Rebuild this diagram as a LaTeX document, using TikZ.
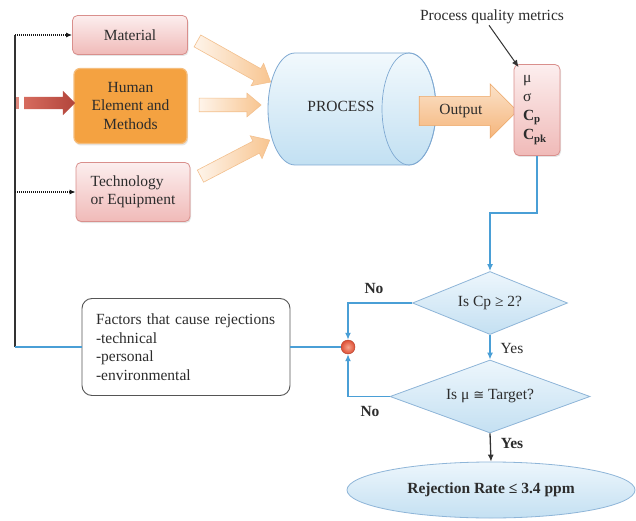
\documentclass[tikz,border=0pt]{standalone}
\usepackage{fontspec}
\setmainfont{Liberation Serif}
\newfontfamily\symf{DejaVu Sans}
\usetikzlibrary{shapes.geometric,shapes.arrows,calc,shadows,arrows.meta}
\definecolor{txt}{HTML}{2C2C2C}
\definecolor{pinktop}{HTML}{FCEEEE}
\definecolor{pinkbot}{HTML}{F0BAB8}
\definecolor{pinkbd}{HTML}{D98F8C}
\definecolor{orfill}{HTML}{F4A241}
\definecolor{orbd}{HTML}{F5BE7E}
\definecolor{cyltop}{HTML}{F2F9FD}
\definecolor{cylbot}{HTML}{C2E0F2}
\definecolor{cylbd}{HTML}{7FA9D2}
\definecolor{blueln}{HTML}{4A9FD6}
\definecolor{diamtop}{HTML}{EDF6FC}
\definecolor{diambot}{HTML}{C4E0F2}
\definecolor{diambd}{HTML}{8EB5D8}
\definecolor{hollowa}{HTML}{FEF4EA}
\definecolor{hollowb}{HTML}{F8C590}
\definecolor{hollowbd}{HTML}{F3C08E}
\definecolor{outtop}{HTML}{FBE2C9}
\definecolor{outbot}{HTML}{F5B57B}
\definecolor{outbd}{HTML}{EDA767}
\definecolor{reda}{HTML}{D66B5E}
\definecolor{redb}{HTML}{B2453B}
\definecolor{dotin}{HTML}{F8A48C}
\definecolor{dotout}{HTML}{DD4F35}
\definecolor{facbd}{HTML}{555555}
\tikzset{
  pinkbox/.style={rounded corners=5pt, draw=pinkbd, line width=0.8pt, top color=pinktop, bottom color=pinkbot,
    drop shadow={opacity=0.2, shadow xshift=1pt, shadow yshift=-1.5pt}, align=center, inner sep=2pt, text=txt},
  orangebox/.style={rounded corners=6pt, draw=orbd, line width=1.2pt, fill=orfill,
    drop shadow={opacity=0.2, shadow xshift=1pt, shadow yshift=-2pt}, align=center, inner sep=2pt, text=txt},
  hollowarr/.style={single arrow, inner xsep=0pt, inner ysep=6.5pt, draw=hollowbd, line width=0.6pt, left color=hollowa, right color=hollowb, single arrow tip angle=80},
  outarr/.style={single arrow, inner xsep=0pt, inner ysep=7.5pt, draw=outbd, line width=0.6pt, top color=outtop, bottom color=outbot, text=txt},
  redarr/.style={single arrow, inner xsep=0pt, inner ysep=6pt, draw=none, left color=reda, right color=redb},
  diam/.style={diamond, draw=diambd, line width=0.8pt, top color=diamtop, bottom color=diambot, inner sep=0pt, text=txt},
  cylstyle/.style={draw=cylbd, line width=0.8pt, top color=cyltop, bottom color=cylbot},
  blueline/.style={draw=blueln, line width=1.4pt},
  darkline/.style={draw=black!80, line width=1.3pt},
  dotarrow/.style={draw=black!90, line width=1.1pt, dash pattern=on 1pt off 1pt, -{Latex[length=6pt,width=5pt]}},
  tip/.style={-{Latex[length=7pt,width=6pt]}},
  lbl/.style={text=txt, inner sep=1pt}
}
\begin{document}
\begin{tikzpicture}[x=1pt,y=-1pt, font=\fontsize{15.5}{18.5}\selectfont]
\useasboundingbox[fill=white] (0,0) rectangle (636,521);

% input boxes
\node[pinkbox, minimum width=115, minimum height=39] (mat) at (130,35) {Material};
\node[orangebox, minimum width=113, minimum height=75] (hum) at (130.5,106) {Human\\Element and\\Methods};
\node[pinkbox, minimum width=114, minimum height=59, align=left] (tech) at (133,192) {Technology\\or Equipment};

% process cylinder (drawn shape) with its label node
\path[cylstyle] (295,53) -- (409,53) arc(-90:90:27 and 56) -- (295,165) arc(90:270:27 and 56) -- cycle;
\draw[draw=cylbd, line width=0.7pt] (409,109) ellipse (27 and 56);
\node[text=txt, inner sep=0pt] (proc) at (341,106) {PROCESS};

% block arrows into process
\node[hollowarr, minimum height=84, single arrow head extend=6, rotate=-29.3] (a1) at (230.5,59.5) {};
\node[hollowarr, minimum height=62, single arrow head extend=5, rotate=0] (a2) at (226,105) {};
\node[hollowarr, minimum height=78, single arrow head extend=6, rotate=27.5] (a3) at (231.5,160) {};

% red arrow into Human element
\fill[reda!80] (15,97) rectangle (19,109);
\node[redarr, minimum height=51, single arrow head extend=6] (ra) at (46.5,103) {};

% output arrow
\node[outarr, minimum height=98, single arrow head extend=12.5] (oa) at (461,111) {Output\hspace{10pt}};

% metrics
\node[pinkbox, minimum width=46, minimum height=91, align=left, inner sep=0pt, text width=28, font=\fontsize{15.5}{19}\selectfont] (met) at (537,110)
  {μ\\σ\\\textbf{C}\textsubscript{\textbf{p}}\\\textbf{C}\textsubscript{\textbf{pk}}};
\node[lbl] (pqm) at (492,17) {Process quality metrics};
\draw[draw=black!80, line width=1pt, tip] ([xshift=-3pt]pqm.south) -- ($(met.north west)+(5,3)$);

% decisions
\node[diam, minimum width=155, minimum height=63, aspect=2.46] (d1) at (490,303) {Is Cp ≥ 2?};
\node[diam, minimum width=200, minimum height=73, aspect=2.74] (d2) at (490,396.5) {Is μ {\symf\fontsize{13}{15}\selectfont ≅} Target?};
\node[ellipse, draw=diambd, line width=0.8pt, top color=diamtop, bottom color=diambot, minimum width=288, minimum height=56, inner sep=0pt, text=txt] (rej) at (491,490)
  {\textbf{Rejection Rate ≤ 3.4 ppm}};

% junction and factors
\node[circle, minimum size=14, inner sep=0pt, inner color=dotin, outer color=dotout, draw=dotout!80!black, line width=0.4pt] (dot) at (348,347) {};
\node[draw=facbd, rounded corners=10pt, line width=0.9pt, minimum width=208, minimum height=97, text width=180, align=left, inner sep=0pt, fill=white, text=txt] (fac) at (186,347)
  {Factors that cause rejections\\-technical\\-personal\\-environmental};

% coordinates
\coordinate (lt) at (15,35);
\coordinate (lm) at (15,192);
\coordinate (lb) at (15,347);
\coordinate (j1) at (537,213);

% connectors
\draw[darkline] (lb) -- (lt);
\draw[dotarrow] (lt) -- (mat.west);
\draw[dotarrow] (lm) -- (tech.west);
\draw[blueline] (fac.west) -- (lb);
\draw[blueline] (dot.west) -- (fac.east);
\draw[blueline, tip] (met.south) -- (j1) -| (d1.north);
\draw[blueline, tip] (d1.west) -| (dot.north);
\draw[blueline, tip] (d2.west) -| (dot.south);
\draw[blueline, tip] (d1.south) -- (d2.north);
\draw[darkline, tip] (d2.south) -- (rej.north);

% labels
\node[lbl] (no1) at (374,288) {\textbf{No}};
\node[lbl] (yes1) at (512,348) {Yes};
\node[lbl] (no2) at (370,411) {\textbf{No}};
\node[lbl] (yes2) at (512,443) {\textbf{Yes}};
\end{tikzpicture}
\end{document}
